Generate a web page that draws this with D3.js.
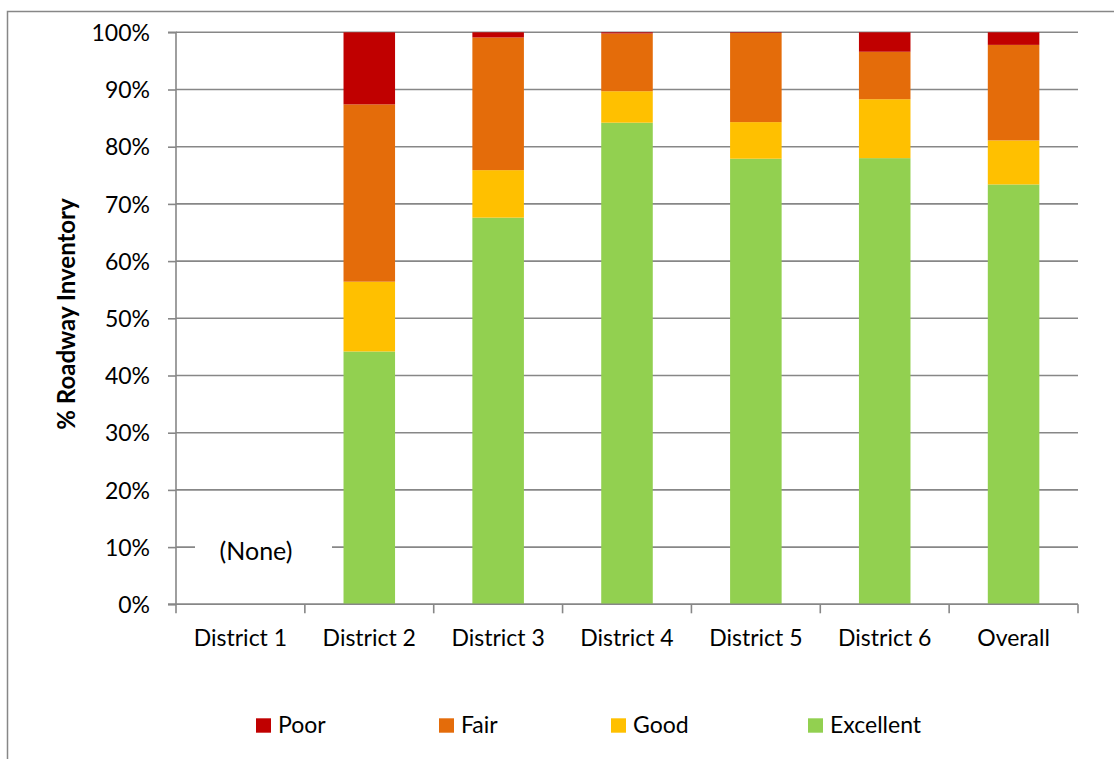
<!DOCTYPE html>
<html>
<head>
<meta charset="utf-8">
<script src="https://cdn.jsdelivr.net/npm/d3@7"></script>
<style>
  html, body { margin: 0; padding: 0; background: #fff; }
  svg text { font-family: Lato, "Liberation Sans", sans-serif; fill: #000; }
</style>
</head>
<body>
<svg id="chart" width="1114" height="759"></svg>
<script>
// Roadway condition share (%) by district
const categories = ["District 1", "District 2", "District 3", "District 4", "District 5", "District 6", "Overall"];
const excellent = [0, 44.2, 67.6, 84.2, 77.9, 78.0, 73.4];
const good      = [0, 12.2,  8.3,  5.5,  6.4, 10.3,  7.7];
const fair      = [0, 31.0, 23.2, 10.1, 15.6,  8.3, 16.7];
const poor      = [0, 12.6,  0.9,  0.2,  0.1,  3.4,  2.2];
const seriesNames = ["Excellent", "Good", "Fair", "Poor"];
const seriesColors = ["#92d050", "#ffc000", "#e46c0a", "#c00000"];
const legendOrder = ["Poor", "Fair", "Good", "Excellent"];
const yTicks = [0, 10, 20, 30, 40, 50, 60, 70, 80, 90, 100];

const svg = d3.select("#chart");
const W = 1114, H = 759;
const plot = { left: 176, right: 1078, top: 32.3, bottom: 604.3 };
const gridColor = "#878787";
const fontSize = "23px";

// Chart frame
svg.append("rect")
  .attr("x", 7.5).attr("y", 11.5)
  .attr("width", W + 20).attr("height", H + 20)
  .attr("fill", "none").attr("stroke", gridColor).attr("stroke-width", 1.5);

const x = d3.scaleBand().domain(categories).range([plot.left, plot.right]).paddingInner(0).paddingOuter(0);
const y = d3.scaleLinear().domain([0, 100]).range([plot.bottom, plot.top]);

// Horizontal gridlines
svg.append("g")
  .selectAll("line")
  .data(yTicks)
  .join("line")
  .attr("x1", plot.left).attr("x2", plot.right)
  .attr("y1", d => y(d)).attr("y2", d => y(d))
  .attr("stroke", gridColor).attr("stroke-width", 1.6);

// Stacked bars
const rows = categories.map((c, i) => ({
  cat: c, Excellent: excellent[i], Good: good[i], Fair: fair[i], Poor: poor[i]
}));
const stack = d3.stack().keys(seriesNames)(rows);
const barW = x.bandwidth() * 0.4;
const color = d3.scaleOrdinal().domain(seriesNames).range(seriesColors);

svg.append("g")
  .selectAll("g")
  .data(stack)
  .join("g")
  .attr("fill", d => color(d.key))
  .selectAll("rect")
  .data(d => d)
  .join("rect")
  .attr("x", d => x(d.data.cat) + (x.bandwidth() - barW) / 2)
  .attr("width", barW)
  .attr("y", d => y(d[1]))
  .attr("height", d => Math.max(0, y(d[0]) - y(d[1])));

// Y axis
const yAxis = d3.axisLeft(y).tickValues(yTicks).tickSize(8).tickPadding(18)
  .tickFormat(d => d + "%");
const gy = svg.append("g").attr("transform", `translate(${plot.left},0)`).call(yAxis);
gy.select(".domain").attr("stroke", gridColor).attr("stroke-width", 1.6)
  .attr("d", `M-8,${plot.top}H0V${plot.bottom}H-8`);
gy.selectAll(".tick line").attr("stroke", gridColor).attr("stroke-width", 1.6);
gy.selectAll(".tick text").style("font-size", fontSize).attr("fill", "#000").attr("dy", "0.36em");

// X axis with ticks at category boundaries
const gx = svg.append("g").attr("transform", `translate(0,${plot.bottom})`)
  .call(d3.axisBottom(x).tickSize(0).tickPadding(25));
gx.select(".domain").remove();
gx.selectAll(".tick text").style("font-size", fontSize).attr("fill", "#000");
const boundaries = categories.map(c => x(c)).concat([plot.right]);
svg.append("g")
  .selectAll("line")
  .data(boundaries)
  .join("line")
  .attr("x1", d => d).attr("x2", d => d)
  .attr("y1", plot.bottom).attr("y2", plot.bottom + 9)
  .attr("stroke", gridColor).attr("stroke-width", 1.6);
svg.append("line")
  .attr("x1", plot.left - 8).attr("x2", plot.right)
  .attr("y1", plot.bottom).attr("y2", plot.bottom)
  .attr("stroke", gridColor).attr("stroke-width", 1.6);

// Note for the empty district
const noteY = y(10);
svg.append("rect")
  .attr("x", 195).attr("y", noteY - 16).attr("width", 137).attr("height", 32)
  .attr("fill", "#fff");
svg.append("text")
  .attr("x", 256).attr("y", noteY + 4).attr("dy", "0.36em")
  .attr("text-anchor", "middle").style("font-size", "25px")
  .text("(None)");

// Y title
svg.append("text")
  .attr("transform", `translate(75,314) rotate(-90)`)
  .attr("text-anchor", "middle")
  .style("font-size", "24px").style("font-weight", "bold")
  .text("% Roadway Inventory");

// Legend
const legendX = [256, 439, 611, 808];
const legend = svg.append("g");
legendOrder.forEach((name, i) => {
  legend.append("rect")
    .attr("x", legendX[i]).attr("y", 718.3).attr("width", 15).attr("height", 14.4)
    .attr("fill", color(name));
  legend.append("text")
    .attr("x", legendX[i] + 22).attr("y", 732.7)
    .style("font-size", fontSize)
    .text(name);
});
</script>
</body>
</html>
